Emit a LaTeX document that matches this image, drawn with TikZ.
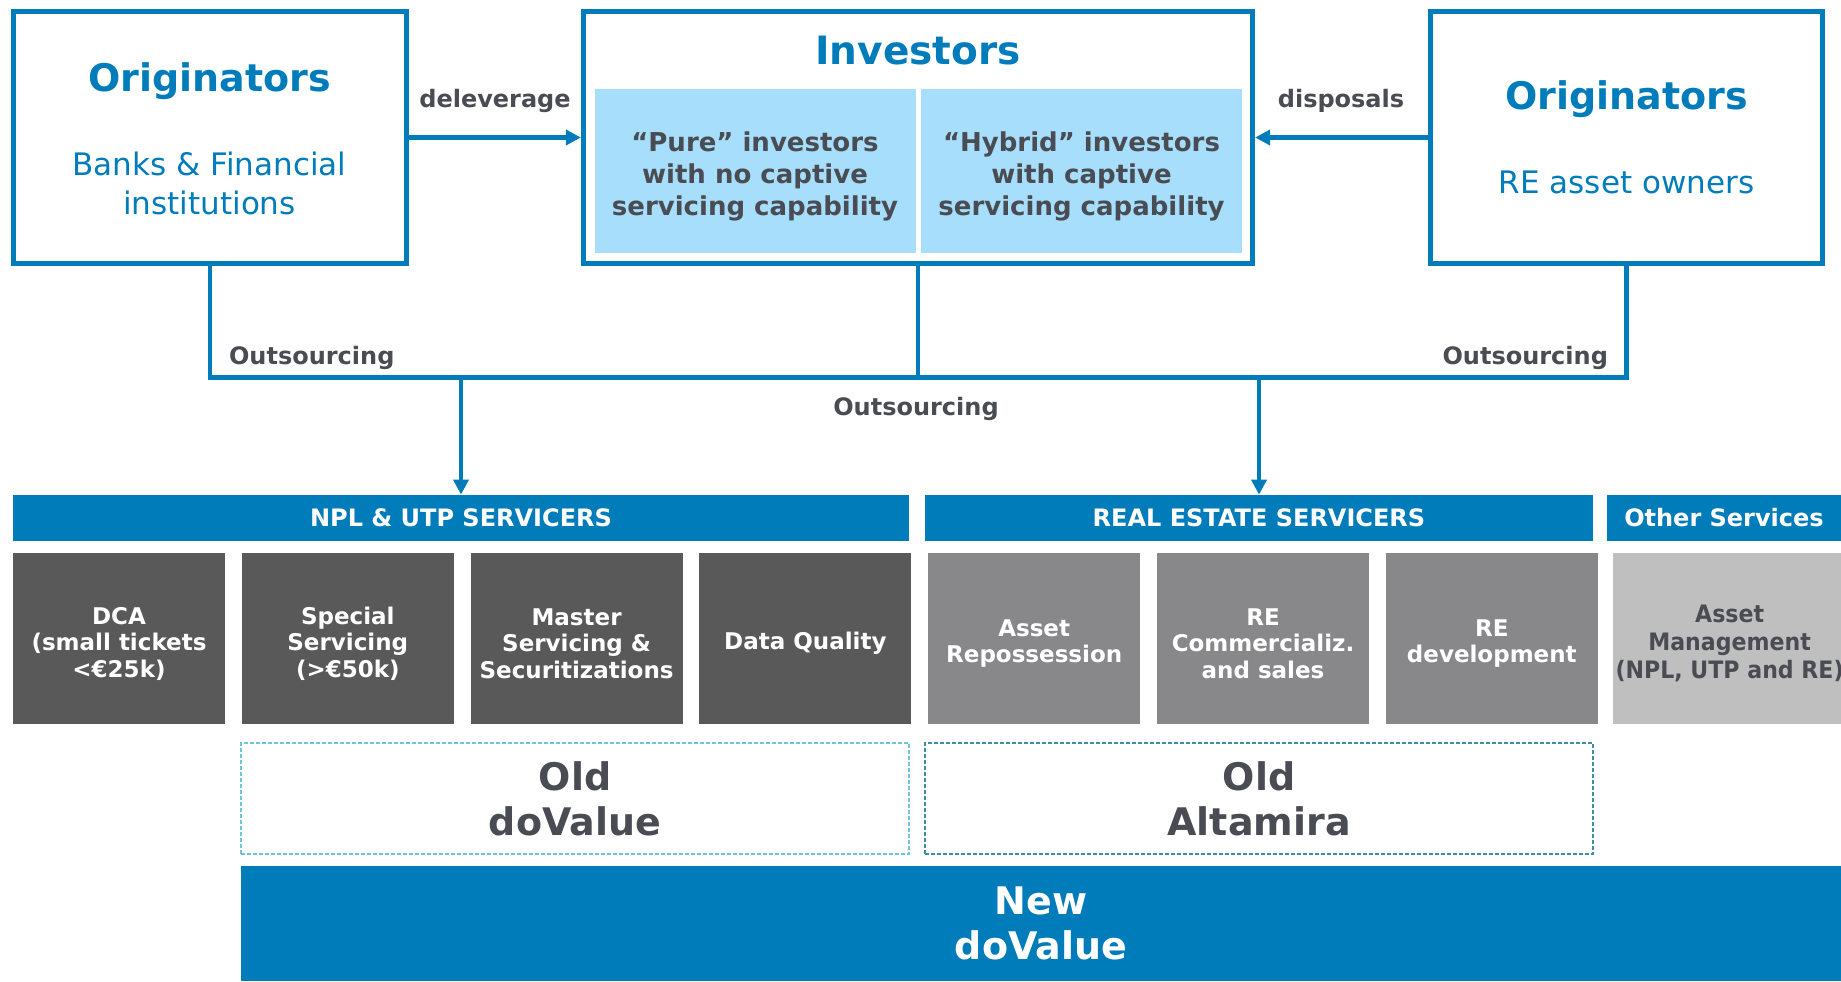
\documentclass[tikz,border=0pt]{standalone}
\usepackage{fontspec}
\setmainfont{DejaVu Sans}
\newfontfamily\narrowsf{DejaVu Sans}[FakeStretch=0.92]
\usepackage{tikz}
\definecolor{Dvb}{RGB}{0,124,187}
\definecolor{Dvb1}{RGB}{166,222,251}
\definecolor{Dvg}{RGB}{74,76,83}
\definecolor{Dvg1}{RGB}{89,89,89}
\definecolor{Dvg2}{RGB}{136,136,138}
\definecolor{Dvg3}{RGB}{191,191,191}
\definecolor{Dvd}{RGB}{110,196,218}
\definecolor{Dvd1}{RGB}{58,143,163}
\usetikzlibrary{arrows.meta,positioning}

\begin{document}
\begin{tikzpicture}[x=0.5pt,y=-0.5pt,
    obox/.style={draw=Dvb, line width=2.6pt, inner sep=0pt, minimum height=126pt},
    ttl/.style={text=Dvb, font=\fontsize{19}{23}\selectfont\bfseries},
    sub/.style={text=Dvb, align=center, font=\fontsize{15.5}{19.5}\selectfont},
    ibox/.style={fill=Dvb1, inner sep=0pt, minimum width=160.5pt, minimum height=82pt},
    itxt/.style={text=Dvg, align=center, font=\fontsize{13}{16}\selectfont\bfseries},
    flow/.style={draw=Dvb, line width=2.1pt},
    arr/.style={flow, -{Triangle[length=7.5pt,width=7.5pt]}},
    lbl/.style={text=Dvg, font=\fontsize{12}{14}\selectfont\bfseries},
    band/.style={fill=Dvb, text=white, inner sep=0pt, minimum height=23pt,
                 font=\fontsize{12}{14}\selectfont\bfseries},
    tile/.style={inner sep=0pt, minimum width=106pt, minimum height=85.5pt},
    ttxt/.style={text=white, align=center, font=\fontsize{11.5}{13.25}\selectfont\bfseries},
    old/.style={dash pattern=on 2pt off 1pt, line width=0.8pt, inner sep=0pt,
                minimum width=334pt, minimum height=55.5pt, text=Dvg, align=center,
                font=\fontsize{19}{22.5}\selectfont\bfseries}]
\useasboundingbox (0,0) rectangle (1841,981);

% top row: originators and investors
\node[obox, minimum width=196.5pt] (orgL) at (210,137.5) {};
\node[ttl] (orgLt) at (209.5,81) {Originators};
\node[sub] (orgLs) at (209.5,183) {Banks \& Financial\\institutions};

\node[obox, minimum width=334.5pt] (inv) at (918,137.5) {};
\node[ttl, font=\fontsize{19.5}{23}\selectfont\bfseries] (invt) at (918,51) {Investors};
\node[ibox] (pure) at (755,171) {};
\node[ibox] (hyb) at (1081.5,171) {};
\node[itxt] (puret) at (755,176) {“Pure” investors\\with no captive\\servicing capability};
\node[itxt] (hybt) at (1081.5,176) {“Hybrid” investors\\with captive\\servicing capability};

\node[obox, minimum width=196pt] (orgR) at (1626.5,137.5) {};
\node[ttl] (orgRt) at (1626.5,99) {Originators};
\node[sub] (orgRs) at (1626.5,182) {RE asset owners};

\draw[arr] (orgL) -- (inv);
\node[lbl] (delev) at (495,101) {deleverage};
\draw[arr] (orgR) -- (inv);
\node[lbl] (disp) at (1341,101) {disposals};

% servicer bands
\node[band, minimum width=448pt] (npl) at (461,518) {NPL \& UTP SERVICERS};
\node[band, minimum width=334pt] (res) at (1259,518) {REAL ESTATE SERVICERS};
\node[band, minimum width=117pt] (oth) at (1724,518) {Other Services};

% outsourcing lines
\coordinate (bus) at (0,377.5);
\draw[flow] (orgL.south) |- (bus -| orgR.south) -- (orgR.south);
\draw[flow] (inv.south) -- (inv.south |- bus);
\draw[arr] (npl.north |- bus) -- (npl.north);
\draw[arr] (res.north |- bus) -- (res.north);
\node[lbl, anchor=west] (outL) at (222,358) {Outsourcing};
\node[lbl, anchor=east] (outR) at (1615,358) {Outsourcing};
\node[lbl] (outC) at (916,409) {Outsourcing};

% service tiles
\node[tile, fill=Dvg1] (dca) at (119,638.5) {};
\node[tile, fill=Dvg1, right=8pt of dca] (spc) {};
\node[tile, fill=Dvg1, right=8pt of spc] (mst) {};
\node[tile, fill=Dvg1, right=8pt of mst] (dq) {};
\node[tile, fill=Dvg2, right=8pt of dq] (rep) {};
\node[tile, fill=Dvg2, right=8pt of rep] (com) {};
\node[tile, fill=Dvg2, right=8pt of com] (dev) {};
\node[tile, fill=Dvg3, minimum width=117pt, right=7pt of dev] (am) {};

\node[ttxt] (dcat) at ([yshift=-2.5pt]dca) {DCA\\(small tickets\\<€25k)};
\node[ttxt] (spct) at ([yshift=-2.5pt]spc) {Special\\Servicing\\(>€50k)};
\node[ttxt] (mstt) at ([yshift=-2.5pt]mst) {Master\\Servicing \&\\Securitizations};
\node[ttxt] (dqt) at ([yshift=-2.5pt]dq) {Data Quality};
\node[ttxt] (rept) at ([yshift=-2.5pt]rep) {Asset\\Repossession};
\node[ttxt] (comt) at ([yshift=-2.5pt]com) {RE\\Commercializ.\\and sales};
\node[ttxt] (devt) at ([yshift=-2.5pt]dev) {RE\\development};
\node[ttxt, text=Dvg, font=\fontsize{12}{14}\narrowsf\bfseries] (amt)
    at ([yshift=-2.5pt]am) {Asset\\Management\\(NPL, UTP and RE)};

% old and new companies
\node[old, draw=Dvd] (olddv) at (575,798.5) {Old\\doValue};
\node[old, draw=Dvd1] (oldalt) at (1259,798.5) {Old\\Altamira};
\node[fill=Dvb, text=white, align=center, inner sep=0pt, minimum width=800pt,
      minimum height=57.5pt, font=\fontsize{19}{22.5}\selectfont\bfseries]
      (newdv) at (1041,923.5) {New\\doValue};
\end{tikzpicture}
\end{document}
